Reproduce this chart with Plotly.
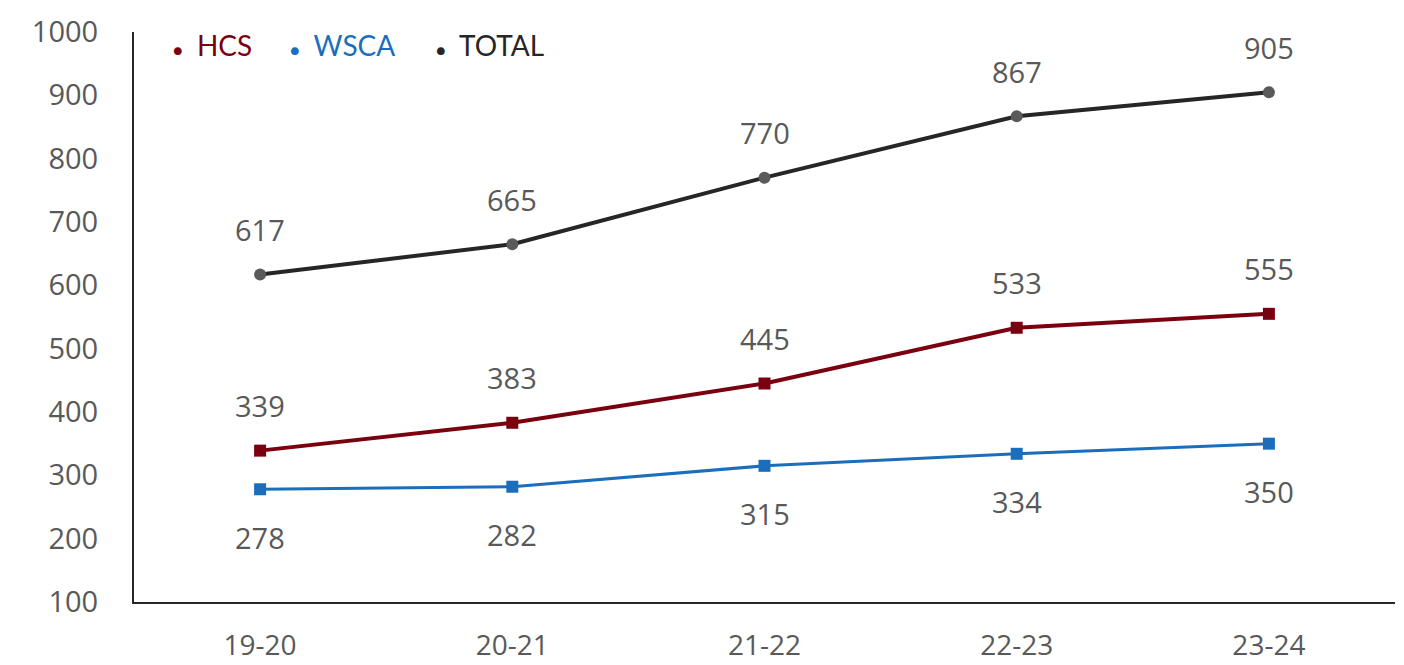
import plotly.graph_objects as go

years = ["19-20", "20-21", "21-22", "22-23", "23-24"]
hcs = [339, 383, 445, 533, 555]
wsca = [278, 282, 315, 334, 350]
total = [617, 665, 770, 867, 905]
y_ticks = [100, 200, 300, 400, 500, 600, 700, 800, 900, 1000]

HCS_C = "#7A0010"
WSCA_C = "#1B6EBB"
TOT_LINE = "#262626"
TOT_MARK = "#5A5A5A"
LABEL_C = "#595959"
FONT = "Open Sans"

fig = go.Figure()
fig.add_trace(go.Scatter(x=years, y=total, mode="lines+markers", showlegend=False,
                         line=dict(color=TOT_LINE, width=4),
                         marker=dict(symbol="circle", size=12, color=TOT_MARK)))
fig.add_trace(go.Scatter(x=years, y=hcs, mode="lines+markers", showlegend=False,
                         line=dict(color=HCS_C, width=4),
                         marker=dict(symbol="square", size=12, color=HCS_C)))
fig.add_trace(go.Scatter(x=years, y=wsca, mode="lines+markers", showlegend=False,
                         line=dict(color=WSCA_C, width=3),
                         marker=dict(symbol="square", size=12, color=WSCA_C)))

for series, shift in ((total, 45), (hcs, 45), (wsca, -48)):
    for x, v in zip(years, series):
        fig.add_annotation(x=x, y=v, text=str(v), showarrow=False, yshift=shift,
                           font=dict(family=FONT, size=29, color=LABEL_C))

# legend built as text
legend_items = [("HCS", HCS_C, 178), ("WSCA", WSCA_C, 295), ("TOTAL", "#262626", 441)]
for name, col, px in legend_items:
    fig.add_annotation(xref="paper", yref="paper", x=(px - 134) / 1261, y=(602 - 45) / 570,
                       text="<span style='font-size:16px'>●</span>  " + name,
                       showarrow=False, xanchor="left", yanchor="middle", xshift=-7,
                       font=dict(family="Lato", size=28, color=col))

# page body has an 8px margin, so the figure is offset by (8, 8)
fig.update_layout(
    width=1396, height=657,
    margin=dict(l=126, r=9, t=24, b=63),
    paper_bgcolor="white", plot_bgcolor="white",
    showlegend=False,
    xaxis=dict(type="category", range=[-0.5, 4.5], showline=True, linecolor="#262626",
               linewidth=2, showgrid=False, ticks="", ticklabelstandoff=17, automargin=False,
               tickfont=dict(family=FONT, size=28, color=LABEL_C)),
    yaxis=dict(range=[100, 1000], tickvals=y_ticks, showline=True, linecolor="#262626",
               linewidth=2, showgrid=False, zeroline=False, ticks="", ticklabelstandoff=28,
               automargin=False,
               tickfont=dict(family=FONT, size=29, color=LABEL_C)),
)

fig.write_html("out.html")
